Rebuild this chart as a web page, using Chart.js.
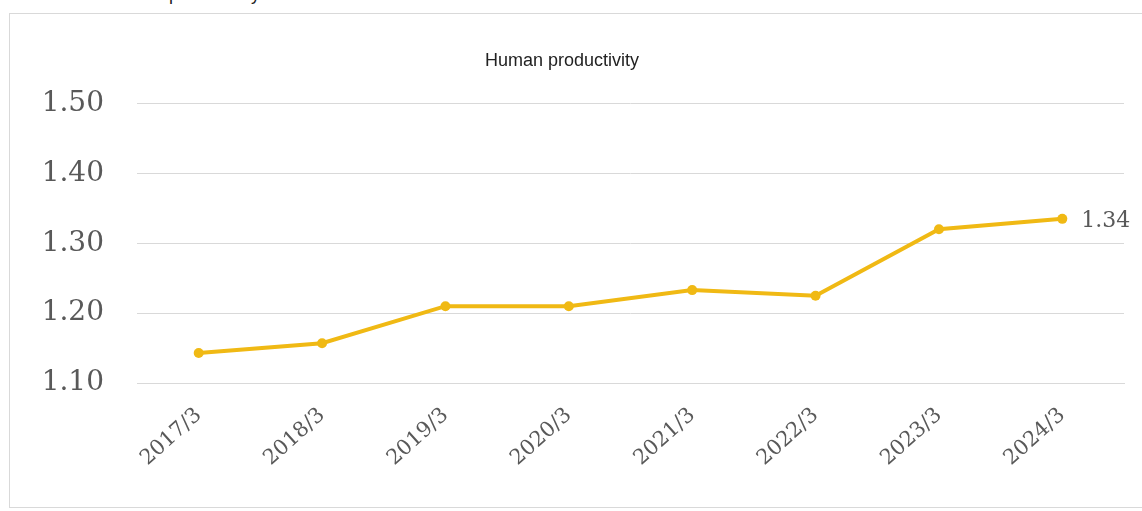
<!DOCTYPE html>
<html>
<head>
<meta charset="utf-8">
<script src="https://cdn.jsdelivr.net/npm/chart.js@4.4.1/dist/chart.umd.min.js"></script>
<style>
  html, body { margin: 0; padding: 0; background: #ffffff; overflow: hidden; }
  #wrap { position: relative; width: 1142px; height: 511px; }
  #frame { position: absolute; left: 9px; top: 13px; width: 1150px; height: 495px; border: 1px solid #d9d9d9; box-sizing: border-box; }
  #cut { position: absolute; left: 106px; top: -15px; font: 18px "Liberation Sans", Arial, sans-serif; line-height: 18px; color: #222; white-space: nowrap; }
  canvas { position: absolute; left: 0; top: 0; }
</style>
</head>
<body>
<div id="wrap">
  <div id="cut">Human productivity</div>
  <div id="frame"></div>
  <canvas id="c" width="1142" height="511"></canvas>
</div>
<script>
const categories = ["2017/3", "2018/3", "2019/3", "2020/3", "2021/3", "2022/3", "2023/3", "2024/3"];
const productivity = [1.143, 1.157, 1.210, 1.210, 1.233, 1.225, 1.320, 1.335];
const yTicks = [1.10, 1.20, 1.30, 1.40, 1.50];
const lastLabel = "1.34";
const chartTitle = "Human productivity";

const lineColor = "#F0B914";
const gridColor = "#d9d9d9";
const tickColor = "#595959";

const endLabelPlugin = {
  id: "endLabel",
  afterDatasetsDraw(chart) {
    const meta = chart.getDatasetMeta(0);
    const pt = meta.data[meta.data.length - 1];
    const ctx = chart.ctx;
    ctx.save();
    ctx.font = '22px "DejaVu Serif", serif';
    ctx.fillStyle = tickColor;
    ctx.textAlign = "left";
    ctx.textBaseline = "middle";
    ctx.fillText(lastLabel, pt.x + 19, pt.y + 2);
    ctx.restore();
  }
};

new Chart(document.getElementById("c"), {
  type: "line",
  data: {
    labels: categories,
    datasets: [{
      data: productivity,
      borderColor: lineColor,
      backgroundColor: lineColor,
      borderWidth: 4,
      pointRadius: 5,
      pointBackgroundColor: lineColor,
      pointBorderColor: lineColor,
      pointBorderWidth: 0,
      tension: 0,
      fill: false
    }]
  },
  options: {
    responsive: false,
    animation: false,
    layout: { padding: { left: 0, right: 18, top: 0, bottom: 0 } },
    plugins: {
      legend: { display: false },
      tooltip: { enabled: false },
      title: {
        display: true,
        text: chartTitle,
        color: "#222222",
        font: { family: '"Liberation Sans", Arial, sans-serif', size: 18, weight: "normal" },
        padding: { top: 50, bottom: 32 }
      }
    },
    scales: {
      x: {
        offset: true,
        grid: { display: false, drawTicks: false },
        border: { display: true, color: gridColor, width: 1 },
        ticks: {
          color: tickColor,
          font: { family: '"DejaVu Serif", serif', size: 21 },
          maxRotation: 42,
          minRotation: 42,
          padding: 20,
          autoSkip: false
        },
        afterFit(s) { s.height = 128; }
      },
      y: {
        min: 1.10,
        max: 1.50,
        afterBuildTicks(s) { s.ticks = yTicks.map(v => ({ value: v })); },
        grid: { color: gridColor, lineWidth: 1, drawTicks: false },
        border: { display: false },
        ticks: {
          color: tickColor,
          font: { family: '"DejaVu Serif", serif', size: 28 },
          padding: 33,
          callback: v => v.toFixed(2)
        },
        afterFit(s) { s.width = 137; }
      }
    }
  },
  plugins: [endLabelPlugin]
});
</script>
</body>
</html>
